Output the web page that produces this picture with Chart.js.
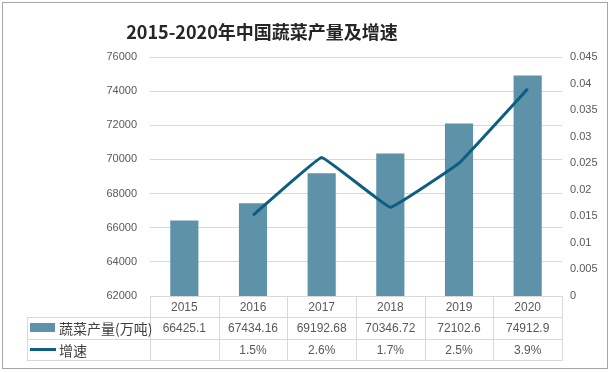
<!DOCTYPE html>
<html>
<head>
<meta charset="utf-8">
<script src="https://cdn.jsdelivr.net/npm/chart.js@4"></script>
<style>
  html, body { margin: 0; padding: 0; background: #fff; }
  #wrap { width: 612px; height: 372px; position: relative; }
</style>
</head>
<body>
<div id="wrap"><canvas id="myChart" width="612" height="372"></canvas></div>
<script>
// chart data
const years = ['2015', '2016', '2017', '2018', '2019', '2020'];
const output = [66425.1, 67434.16, 69192.68, 70346.72, 72102.6, 74912.9];
const growth = [null, 0.0152, 0.0261, 0.0167, 0.0250, 0.0390];
const growthText = ['', '1.5%', '2.6%', '1.7%', '2.5%', '3.9%'];
const outputLabel = '蔬菜产量(万吨)';
const growthLabel = '增速';
const titleText = '2015-2020年中国蔬菜产量及增速';

const barColor = '#5d92a9';
const lineColor = '#0d5e80';
const gridColor = '#d9d9d9';
const textColor = '#595959';
const numFont = '"Liberation Sans", "Noto Sans CJK SC", sans-serif';

// draws title, outer frame and the data table under the plot
const tablePlugin = {
  id: 'tablePlugin',
  afterDraw(chart) {
    const ctx = chart.ctx;
    const area = chart.chartArea;
    const x = chart.scales.x;
    const colW = (area.right - area.left) / years.length;
    const top = area.bottom;
    const r1 = top + 21, r2 = r1 + 22, r3 = r2 + 21;
    const legendLeft = 27;

    ctx.save();
    // outer frame
    ctx.strokeStyle = '#a6a6a6';
    ctx.lineWidth = 1;
    ctx.strokeRect(2.5, 2.5, 605, 366);

    // title
    ctx.fillStyle = '#262626';
    ctx.font = 'bold 18px "Noto Sans CJK SC", sans-serif';
    ctx.textAlign = 'center';
    ctx.textBaseline = 'middle';
    ctx.fillText(titleText, 262, 32);

    // table grid lines
    ctx.strokeStyle = gridColor;
    ctx.lineWidth = 1;
    ctx.beginPath();
    for (let i = 0; i <= years.length; i++) {
      const cx = Math.round(area.left + i * colW) + 0.5;
      ctx.moveTo(cx, top);
      ctx.lineTo(cx, r3);
    }
    ctx.moveTo(legendLeft + 0.5, r1);
    ctx.lineTo(legendLeft + 0.5, r3);
    [r1, r2, r3].forEach(y => {
      ctx.moveTo(legendLeft, y + 0.5);
      ctx.lineTo(area.right + 1, y + 0.5);
    });
    ctx.stroke();

    // cell texts
    ctx.fillStyle = textColor;
    ctx.font = '12px ' + numFont;
    ctx.textAlign = 'center';
    years.forEach((yr, i) => {
      const cx = x.getPixelForValue(i);
      ctx.fillText(yr, cx, (top + r1) / 2 + 1);
      ctx.fillText(String(output[i]), cx, (r1 + r2) / 2 + 1);
      ctx.fillText(growthText[i], cx, (r2 + r3) / 2 + 1);
    });

    // legend keys
    ctx.fillStyle = barColor;
    ctx.fillRect(30, r1 + 6, 25, 9);
    ctx.strokeStyle = lineColor;
    ctx.lineWidth = 3;
    ctx.beginPath();
    ctx.moveTo(30, (r2 + r3) / 2);
    ctx.lineTo(56, (r2 + r3) / 2);
    ctx.stroke();

    ctx.fillStyle = '#404040';
    ctx.font = '14px "Noto Sans CJK SC", sans-serif';
    ctx.textAlign = 'left';
    ctx.fillText(outputLabel, 59, (r1 + r2) / 2 + 1);
    ctx.fillText(growthLabel, 59, (r2 + r3) / 2 + 1);
    ctx.restore();
  }
};

new Chart(document.getElementById('myChart'), {
  type: 'bar',
  data: {
    labels: years,
    datasets: [
      {
        type: 'line',
        label: growthLabel,
        data: growth,
        yAxisID: 'y1',
        borderColor: lineColor,
        borderWidth: 3,
        pointRadius: 0,
        tension: 0.06,
        fill: false,
        order: 0
      },
      {
        label: outputLabel,
        data: output,
        yAxisID: 'y',
        backgroundColor: barColor,
        barPercentage: 0.41,
        categoryPercentage: 1,
        order: 1
      }
    ]
  },
  options: {
    responsive: false,
    animation: false,
    layout: { padding: { top: 57, bottom: 76, left: 0, right: 0 } },
    plugins: {
      legend: { display: false },
      tooltip: { enabled: false },
      title: { display: false }
    },
    scales: {
      x: { display: false },
      y: {
        position: 'left',
        min: 62000,
        max: 76000,
        afterFit(scale) { scale.width = 150; },
        border: { display: false },
        grid: { color: gridColor, drawTicks: false },
        ticks: {
          stepSize: 2000,
          padding: 13,
          color: textColor,
          font: { family: numFont, size: 11 },
          callback: v => String(v)
        }
      },
      y1: {
        position: 'right',
        min: 0,
        max: 0.045,
        afterFit(scale) { scale.width = 50; },
        border: { display: false },
        grid: { display: false, drawTicks: false },
        ticks: {
          stepSize: 0.005,
          padding: 8,
          color: textColor,
          font: { family: numFont, size: 11 },
          callback: v => String(Number(v.toFixed(3)))
        }
      }
    }
  },
  plugins: [tablePlugin]
});
</script>
</body>
</html>
